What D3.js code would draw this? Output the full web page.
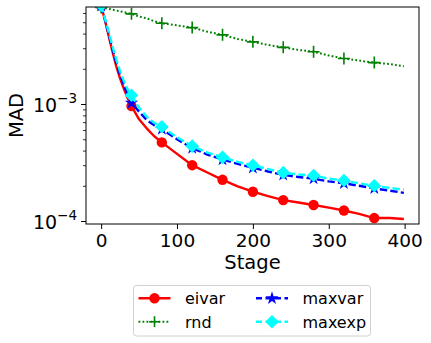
<!DOCTYPE html>
<html>
<head>
<meta charset="utf-8">
<script src="https://cdn.jsdelivr.net/npm/d3@7"></script>
<style>
  body { margin: 0; background: #fff; }
  text { font-family: "DejaVu Sans", sans-serif; fill: #000; }
</style>
</head>
<body>
<div id="chart"></div>
<script>
const stages = [0, 5, 10, 15, 20, 25, 30, 35, 40, 50, 60, 70, 80, 100, 120, 140, 160, 180,
                200, 220, 240, 260, 280, 300, 320, 340, 360, 380, 399];

const eivar = [6.9e-3, 5.2e-3, 3.8e-3, 2.8e-3, 2.1e-3, 1.65e-3, 1.35e-3, 1.12e-3, 9.6e-4, 7.4e-4,
               6.2e-4, 5.3e-4, 4.7e-4, 3.75e-4, 3.0e-4, 2.6e-4, 2.25e-4, 1.98e-4,
               1.78e-4, 1.63e-4, 1.51e-4, 1.44e-4, 1.37e-4, 1.3e-4, 1.23e-4, 1.15e-4, 1.06e-4, 1.06e-4, 1.04e-4];

const rnd = [6.7e-3, 6.6e-3, 6.5e-3, 6.4e-3, 6.3e-3, 6.2e-3, 6.1e-3, 6.0e-3, 5.9e-3, 5.6e-3,
             5.4e-3, 5.1e-3, 4.9e-3, 4.7e-3, 4.5e-3, 4.15e-3, 3.9e-3, 3.6e-3,
             3.4e-3, 3.2e-3, 3.05e-3, 2.9e-3, 2.8e-3, 2.6e-3, 2.45e-3, 2.35e-3, 2.26e-3, 2.2e-3, 2.1e-3];

const maxvar = [6.9e-3, 5.3e-3, 3.95e-3, 2.95e-3, 2.25e-3, 1.78e-3, 1.45e-3, 1.2e-3, 1.02e-3, 8.6e-4,
                7.3e-4, 6.6e-4, 6.1e-4, 5.0e-4, 4.2e-4, 3.7e-4, 3.35e-4, 3.08e-4,
                2.85e-4, 2.65e-4, 2.48e-4, 2.38e-4, 2.3e-4, 2.18e-4, 2.1e-4, 2.0e-4, 1.9e-4, 1.82e-4, 1.74e-4];

const maxexp = [7.0e-3, 5.4e-3, 4.1e-3, 3.1e-3, 2.4e-3, 1.9e-3, 1.57e-3, 1.33e-3, 1.19e-3, 9.3e-4,
                7.8e-4, 6.9e-4, 6.4e-4, 5.2e-4, 4.37e-4, 3.85e-4, 3.5e-4, 3.2e-4,
                3.0e-4, 2.78e-4, 2.59e-4, 2.5e-4, 2.45e-4, 2.3e-4, 2.22e-4, 2.1e-4, 2.0e-4, 1.92e-4, 1.85e-4];

const markerStages = [0, 40, 80, 120, 160, 200, 240, 280, 320, 360];
const xTicks = [0, 100, 200, 300, 400];
const yMajor = [1e-4, 1e-3];
const yMinor = [2e-4, 3e-4, 4e-4, 5e-4, 6e-4, 7e-4, 8e-4, 9e-4, 2e-3, 3e-3, 4e-3, 5e-3, 6e-3];

const series = [
    { name: "eivar",  values: eivar,  color: "#ff0000", dash: null,      width: 2.4, marker: "circle" },
    { name: "rnd",    values: rnd,    color: "#008000", dash: "1.8,2.2", width: 2,   marker: "plus" },
    { name: "maxvar", values: maxvar, color: "#0000ff", dash: "7.4,3.2", width: 2.4, marker: "star" },
    { name: "maxexp", values: maxexp, color: "#00ffff", dash: "7.4,3.2", width: 2.4, marker: "diamond" }
];

const W = 431, H = 343;
const margin = {top: 7, right: 12, bottom: 119, left: 86};

const svg = d3.select("#chart").append("svg")
    .attr("width", W)
    .attr("height", H);

const x = d3.scaleLinear()
    .domain([-19.95, 418.95])
    .range([margin.left, W - margin.right]);

const y = d3.scaleLog()
    .domain([9.43e-5, 6.75e-3])
    .range([H - margin.bottom, margin.top]);

svg.append("clipPath").attr("id", "plotClip")
    .append("rect")
    .attr("x", margin.left).attr("y", margin.top)
    .attr("width", x.range()[1] - x.range()[0])
    .attr("height", y.range()[0] - y.range()[1]);

function drawMarker(g, type, cx, cy, color, scale = 1) {
    if (type === "circle") {
        g.append("circle").attr("cx", cx).attr("cy", cy).attr("r", 5.2 * scale).attr("fill", color);
    } else if (type === "plus") {
        const s = 6 * scale;
        g.append("path")
            .attr("d", `M${cx - s},${cy}H${cx + s}M${cx},${cy - s}V${cy + s}`)
            .attr("stroke", color).attr("stroke-width", 1.6).attr("fill", "none");
    } else if (type === "star") {
        g.append("path")
            .attr("d", d3.symbol(d3.symbolStar, 55 * scale * scale)())
            .attr("transform", `translate(${cx},${cy})`)
            .attr("fill", color);
    } else if (type === "diamond") {
        const s = 6.8 * scale;
        g.append("path")
            .attr("d", `M${cx},${cy - s}L${cx + s},${cy}L${cx},${cy + s}L${cx - s},${cy}Z`)
            .attr("fill", color);
    }
}

const plot = svg.append("g").attr("clip-path", "url(#plotClip)");

const line = d3.line()
    .x((d, i) => x(stages[i]))
    .y(d => y(d));

series.forEach(s => {
    const g = plot.append("g");
    g.append("path")
        .attr("d", line(s.values))
        .attr("fill", "none")
        .attr("stroke", s.color)
        .attr("stroke-width", s.width)
        .attr("stroke-dasharray", s.dash)
        .attr("stroke-linejoin", "round");
    markerStages.forEach(st => {
        const i = stages.indexOf(st);
        drawMarker(g, s.marker, x(st), y(s.values[i]), s.color);
    });
});

// x axis
svg.append("g")
    .attr("transform", `translate(0,${H - margin.bottom})`)
    .call(d3.axisBottom(x).tickValues(xTicks).tickSize(5).tickPadding(5))
    .call(g => g.select(".domain").remove())
    .call(g => g.selectAll("line").attr("stroke", "#000").attr("stroke-width", 1))
    .call(g => g.selectAll("text").attr("font-size", 18.5).attr("font-family", "DejaVu Sans"));

// y axis, major ticks with superscript labels
svg.append("g")
    .attr("transform", `translate(${margin.left},0)`)
    .call(d3.axisLeft(y).tickValues(yMajor).tickSize(5).tickFormat(""))
    .call(g => g.select(".domain").remove())
    .call(g => g.selectAll("line").attr("stroke", "#000").attr("stroke-width", 1));

svg.append("g")
    .attr("transform", `translate(${margin.left},0)`)
    .call(d3.axisLeft(y).tickValues(yMinor).tickSize(3).tickFormat(""))
    .call(g => g.select(".domain").remove())
    .call(g => g.selectAll("line").attr("stroke", "#000").attr("stroke-width", 0.8));

yMajor.forEach(v => {
    const t = svg.append("text")
        .attr("x", 77)
        .attr("y", y(v) + 7.5)
        .attr("text-anchor", "end")
        .attr("font-size", 19);
    t.append("tspan").text("10");
    t.append("tspan").attr("font-size", 13.5).attr("dy", -8.5)
        .text("\u2212" + Math.round(-Math.log10(v)));
});

// frame
svg.append("rect")
    .attr("x", margin.left).attr("y", margin.top)
    .attr("width", x.range()[1] - x.range()[0])
    .attr("height", y.range()[0] - y.range()[1])
    .attr("fill", "none").attr("stroke", "#000").attr("stroke-width", 1);

// axis labels
svg.append("text")
    .attr("x", (x.range()[0] + x.range()[1]) / 2)
    .attr("y", 269)
    .attr("text-anchor", "middle")
    .attr("font-size", 19.5)
    .text("Stage");

svg.append("text")
    .attr("transform", `translate(23,${(y.range()[0] + y.range()[1]) / 2}) rotate(-90)`)
    .attr("text-anchor", "middle")
    .attr("font-size", 19.5)
    .text("MAD");

// legend
const legend = svg.append("g");
legend.append("rect")
    .attr("x", 133.5).attr("y", 285.5)
    .attr("width", 237).attr("height", 50.5)
    .attr("rx", 3)
    .attr("fill", "#fff").attr("stroke", "#d0d0d0").attr("stroke-width", 1);

const cols = [138.5, 256];
const rows = [298.3, 321.7];
series.forEach((s, k) => {
    const cx = cols[Math.floor(k / 2)], cy = rows[k % 2];
    const g = legend.append("g");
    g.append("line")
        .attr("x1", cx).attr("x2", cx + 32)
        .attr("y1", cy).attr("y2", cy)
        .attr("stroke", s.color)
        .attr("stroke-width", s.width)
        .attr("stroke-dasharray", s.dash ? (s.name === "rnd" ? s.dash : "6,3.5") : null);
    drawMarker(g, s.marker, cx + 16, cy, s.color, s.marker === "plus" ? 0.9 : 1);
    g.append("text")
        .attr("x", cx + 46.5)
        .attr("y", cy + 5.8)
        .attr("font-size", 16)
        .text(s.name);
});
</script>
</body>
</html>
